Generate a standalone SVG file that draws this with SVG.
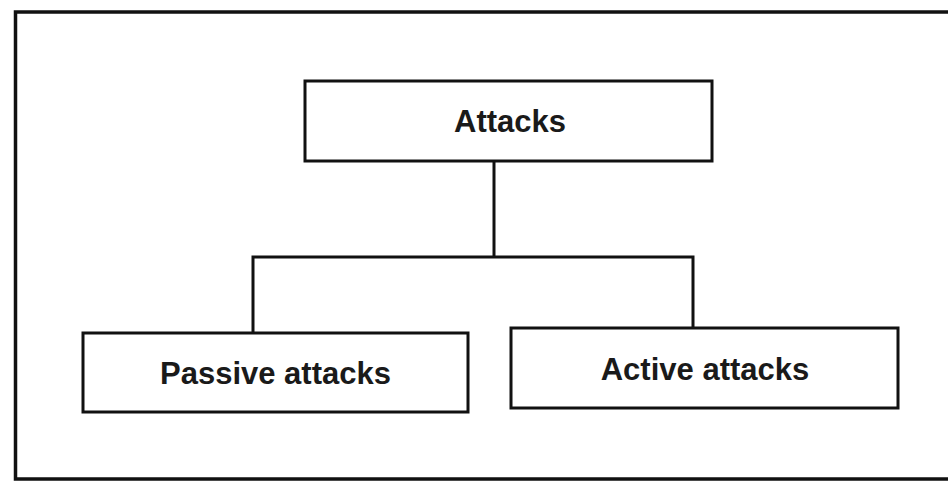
<svg xmlns="http://www.w3.org/2000/svg" width="948" height="481" viewBox="0 0 948 481">
<style>
.box{fill:#fff;stroke:#111;stroke-width:3}
.lbl{font-family:"Liberation Sans",Arial,sans-serif;font-weight:bold;font-size:31px;fill:#1a1a1a;text-anchor:middle}
.conn{fill:none;stroke:#111;stroke-width:3}
</style>
<rect width="948" height="481" fill="#fff"/>
<path d="M950,12 H15.5 V479 H950" fill="none" stroke="#111" stroke-width="3.5"/>
<g id="connectors">
<path class="conn" d="M494,161 V257"/>
<path class="conn" d="M253,333 V257 H693 V328"/>
</g>
<g id="attacks">
<rect class="box" x="305" y="81" width="407" height="80"/>
<text class="lbl" x="510" y="132">Attacks</text>
</g>
<g id="passive">
<rect class="box" x="83" y="333" width="385" height="79"/>
<text class="lbl" x="275.5" y="384">Passive attacks</text>
</g>
<g id="active">
<rect class="box" x="511" y="328" width="387" height="80"/>
<text class="lbl" x="705" y="380">Active attacks</text>
</g>
</svg>
